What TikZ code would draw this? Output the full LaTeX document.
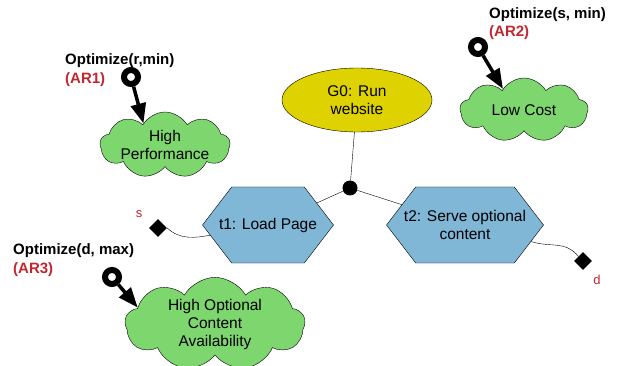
\documentclass[tikz,border=0pt]{standalone}
\usepackage{fontspec}
\setmainfont{Liberation Sans}
\usetikzlibrary{shapes.geometric,shapes.symbols,arrows.meta}

\definecolor{goalyellow}{RGB}{222,210,0}
\definecolor{taskblue}{RGB}{128,182,214}
\definecolor{softgreen}{RGB}{126,214,110}
\definecolor{arred}{RGB}{193,39,45}

\tikzset{
  goal/.style={ellipse, draw, fill=goalyellow, minimum width=150pt, minimum height=64pt, align=center, inner sep=0pt},
  task/.style={signal, signal to=east and west, signal pointer angle=105, draw, fill=taskblue, minimum height=76pt, inner sep=0pt, label={[align=center]center:{#1}}},
  softgoal/.style={cloud, cloud puffs=9, cloud puff arc=120, cloud ignores aspect, draw, fill=softgreen, align=center, inner sep=0pt},
  resource/.style={diamond, fill=black, minimum size=18pt, inner sep=0pt},
  ring/.style={circle, draw, line width=6pt, minimum size=14pt, inner sep=0pt, fill=white},
  contrib/.style={line width=3.5pt, -{Triangle[width=15pt,length=20pt]}},
  optlabel/.style={font=\bfseries\fontsize{15}{18}\selectfont, anchor=base west, inner sep=0pt},
  arlabel/.style={optlabel, text=arred},
  varlabel/.style={text=arred, font=\fontsize{13}{15}\selectfont, inner sep=0pt}
}

\begin{document}
\begin{tikzpicture}[x=1pt, y=-1pt, font=\fontsize{15.5}{18}\selectfont]

    \useasboundingbox (0,0) rectangle (618,366);

    % 1. Goal, junction and tasks
    \node[goal] (g0) at (357,100) {G0: Run\\website};
    \node[circle, fill=black, minimum size=15pt, inner sep=0pt] (jn) at (350,188) {};
    \node[task={t1: Load Page}, minimum width=131pt] (t1) at (268,225) {};
    \node[task={t2: Serve optional\\content}, minimum width=157pt] (t2) at (465,225) {};

    \draw (g0) -- (jn);
    \draw (jn) -- (t1);
    \draw (jn) -- (t2);

    % 2. Softgoals (clouds)
    \node[softgoal, minimum width=130pt, minimum height=66pt] (hp) at (165,145) {High\\Performance};
    \node[softgoal, minimum width=128pt, minimum height=64pt] (lc) at (524,110) {Low Cost};
    \node[softgoal, minimum width=180pt, minimum height=76pt] (hoca) at (215,324) {High Optional\\Content\\Availability};

    % 3. Resources s and d
    \node[resource] (sd) at (158,228) {};
    \node[resource] (dd) at (583,261) {};
    \node[varlabel] (slbl) at (139,214) {s};
    \node[varlabel] (dlbl) at (597,280) {d};

    \draw (sd.east) .. controls (180,240) and (195,238) .. (t1.190);
    \draw (t2.-14) .. controls (550,248) and (565,240) .. (dd.north west);

    % 4. Optimization rules with their rings and arrows
    \node[ring] (r1) at (131,77) {};
    \node[ring] (r2) at (478,47) {};
    \node[ring] (r3) at (112,277) {};

    \draw[contrib] (r1) -- (hp.135);
    \draw[contrib] (r2) -- (lc.135);
    \draw[contrib] (r3) -- (hoca.168);

    \node[optlabel] (opt1) at (65,65) {Optimize(r,min)};
    \node[arlabel] (ar1) at (65,84) {(AR1)};
    \node[optlabel] (opt2) at (489,19) {Optimize(s, min)};
    \node[arlabel] (ar2) at (489,37) {(AR2)};
    \node[optlabel] (opt3) at (13,254) {Optimize(d, max)};
    \node[arlabel] (ar3) at (13,273) {(AR3)};

\end{tikzpicture}
\end{document}
